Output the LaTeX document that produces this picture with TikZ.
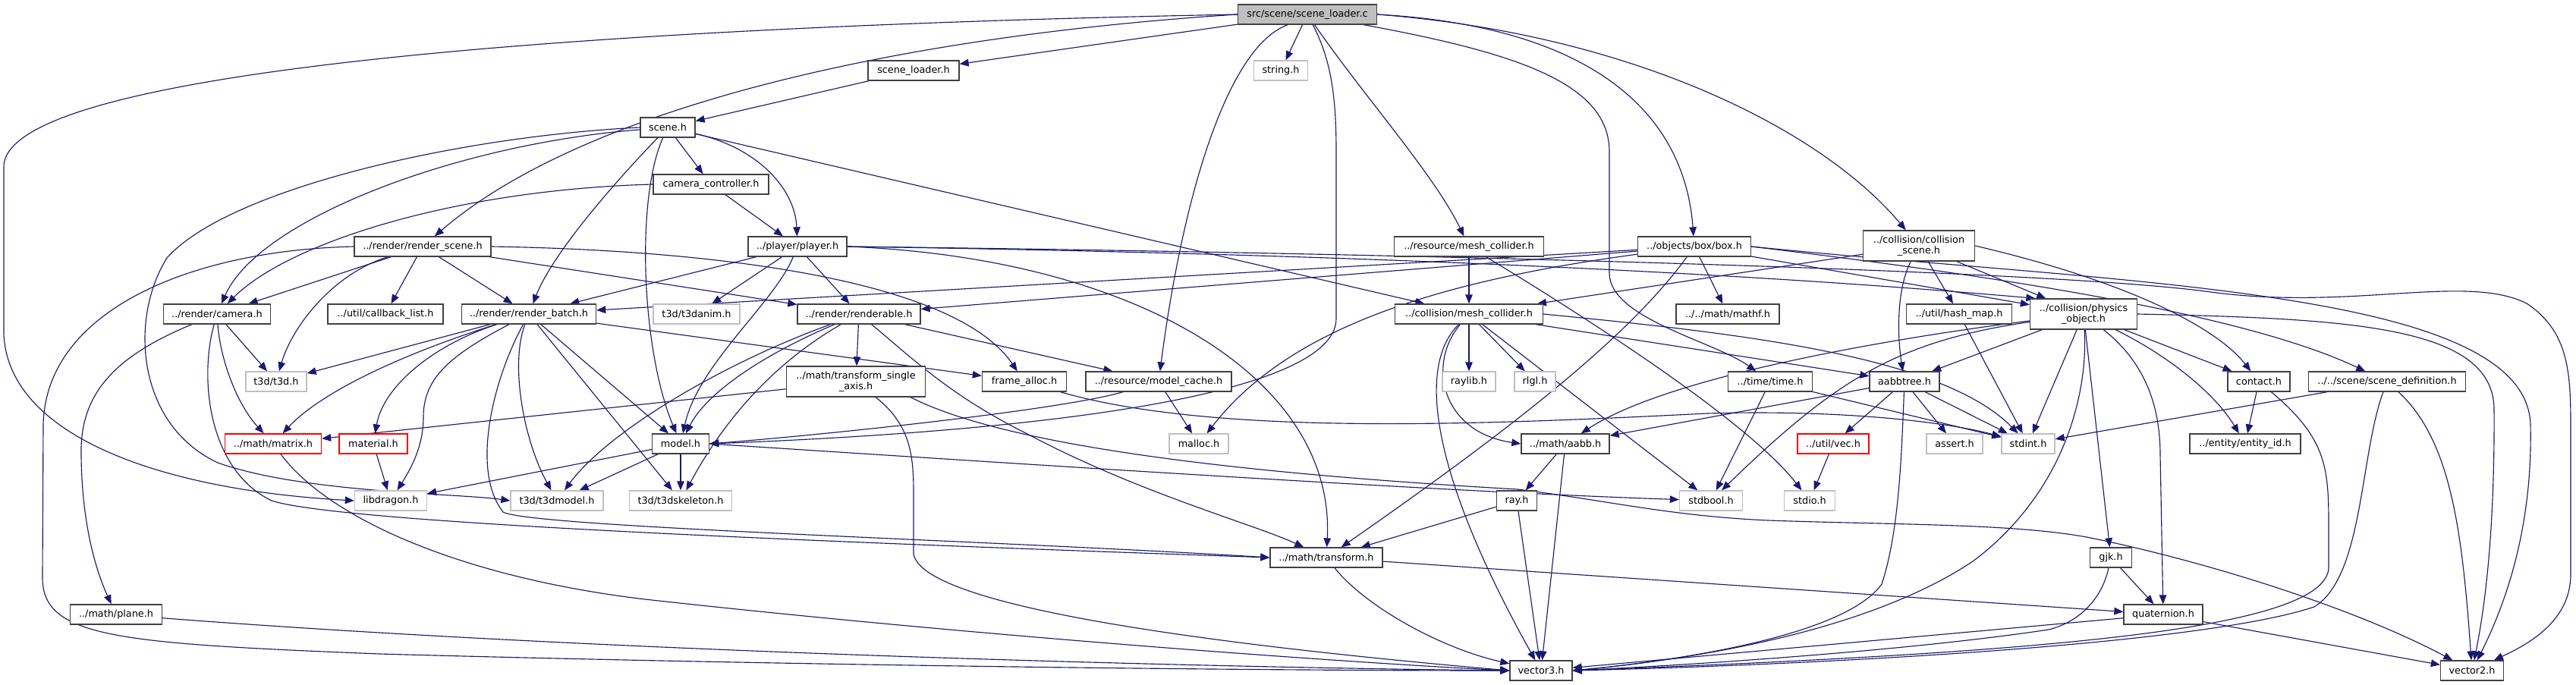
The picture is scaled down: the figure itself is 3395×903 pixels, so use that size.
\documentclass[tikz,border=0pt]{standalone}
\usepackage{fontspec}
\setmainfont{DejaVu Sans}
\usetikzlibrary{arrows.meta}
\pgfdeclarelayer{background}
\pgfsetlayers{background,main}
\definecolor{edgeblue}{HTML}{191970}
\definecolor{boxline}{HTML}{404040}
\definecolor{sysgray}{HTML}{BFBFBF}
\definecolor{rootgray}{HTML}{BFBFBF}
\definecolor{truncred}{HTML}{FF0000}
\tikzset{
  hdr/.style={draw=boxline, line width=1pt, fill=white, inner sep=0pt, minimum height=19.5pt,
    font=\fontsize{9.6}{10.75}\selectfont, align=center, text=black},
  sysh/.style={hdr, draw=sysgray},
  trunc/.style={hdr, draw=truncred},
  rootn/.style={hdr, fill=rootgray},
  tall/.style={minimum height=30pt},
  wd/.style={minimum width=#1*0.75pt},
  dep/.style={draw=edgeblue, line width=0.85pt, -{Triangle[length=9pt,width=7.2pt]}},
}
\begin{document}
\begin{tikzpicture}[x=0.75pt,y=-0.75pt]
\useasboundingbox (0,0) rectangle (3395,903);
\begin{pgfonlayer}{background}
\fill[white] (0,0) rectangle (3395,903);
\end{pgfonlayer}
% nodes
\node[rootn,wd=183] (root) at (1723,19) {src/scene/scene\_loader.c};
\node[hdr,wd=120] (slh) at (1204,93) {scene\_loader.h};
\node[sysh,wd=71] (string) at (1688,93) {string.h};
\node[hdr,wd=72] (scene) at (880,168) {scene.h};
\node[hdr,wd=152] (camctl) at (937,243) {camera\_controller.h};
\node[hdr,wd=180] (rscene) at (557,325) {../render/render\_scene.h};
\node[hdr,wd=130] (player) at (1051,325) {../player/player.h};
\node[hdr,wd=197] (rmesh) at (1936,325) {../resource/mesh\_collider.h};
\node[hdr,wd=149] (box) at (2233,325) {../objects/box/box.h};
\node[hdr,tall,wd=147] (cscene) at (2529,324) {../collision/collision\\\_scene.h};
\node[hdr,wd=141] (camera) at (286,414) {../render/camera.h};
\node[hdr,wd=152] (cblist) at (508,414) {../util/callback\_list.h};
\node[hdr,wd=177] (rbatch) at (697,414) {../render/render\_batch.h};
\node[sysh,wd=114] (t3danim) at (918,414) {t3d/t3danim.h};
\node[hdr,wd=162] (rend) at (1132,414) {../render/renderable.h};
\node[hdr,wd=195] (cmesh) at (1936,414) {../collision/mesh\_collider.h};
\node[hdr,wd=136] (mathf) at (2277,414) {../../math/mathf.h};
\node[hdr,wd=139] (hmap) at (2582,414) {../util/hash\_map.h};
\node[hdr,tall,wd=141] (phys) at (2746,414) {../collision/physics\\\_object.h};
\node[sysh,wd=80] (t3d) at (364,503) {t3d/t3d.h};
\node[hdr,tall,wd=183] (tsa) at (1128,503) {../math/transform\_single\\\_axis.h};
\node[hdr,wd=111] (falloc) at (1350,503) {frame\_alloc.h};
\node[hdr,wd=192] (mcache) at (1527,503) {../resource/model\_cache.h};
\node[sysh,wd=70] (raylib) at (1936,503) {raylib.h};
\node[sysh,wd=54] (rlgl) at (2023,503) {rlgl.h};
\node[hdr,wd=111] (time) at (2333,503) {../time/time.h};
\node[hdr,wd=92] (abt) at (2510,503) {aabbtree.h};
\node[hdr,wd=82] (contact) at (2977,503) {contact.h};
\node[hdr,wd=207] (scdef) at (3146,503) {../../scene/scene\_definition.h};
\node[trunc,wd=127] (matrix) at (360,585) {../math/matrix.h};
\node[trunc,wd=90] (material) at (492,585) {material.h};
\node[hdr,wd=75] (model) at (897,585) {model.h};
\node[sysh,wd=78] (malloc) at (1580,585) {malloc.h};
\node[hdr,wd=116] (aabb) at (2063,585) {../math/aabb.h};
\node[trunc,wd=94] (vec) at (2416,585) {../util/vec.h};
\node[sysh,wd=74] (assert) at (2576,585) {assert.h};
\node[sysh,wd=70] (stdint) at (2673,585) {stdint.h};
\node[hdr,wd=146] (entity) at (2959,585) {../entity/entity\_id.h};
\node[sysh,wd=95] (libdragon) at (515,660) {libdragon.h};
\node[sysh,wd=122] (t3dmodel) at (734,660) {t3d/t3dmodel.h};
\node[sysh,wd=135] (t3dskel) at (897,660) {t3d/t3dskeleton.h};
\node[hdr,wd=53] (ray) at (1999,660) {ray.h};
\node[sysh,wd=83] (stdbool) at (2255,660) {stdbool.h};
\node[sysh,wd=67] (stdio) at (2385,660) {stdio.h};
\node[hdr,wd=148] (transform) at (1748,735) {../math/transform.h};
\node[hdr,wd=55] (gjk) at (2782,735) {gjk.h};
\node[hdr,wd=121] (plane) at (153,810) {../math/plane.h};
\node[hdr,wd=104] (quat) at (2851,810) {quaternion.h};
\node[hdr,wd=82] (v3) at (2031,884) {vector3.h};
\node[hdr,wd=83] (v2) at (3258,884) {vector2.h};
% edges
\begin{pgfonlayer}{background}
% root
\draw[dep] (root) -- (slh);
\draw[dep] (root) -- (string);
\draw[dep] (root.west) .. controls (800,35) and (5,90) .. (5,220) -- (5,440) .. controls (10,570) and (200,645) .. (libdragon.west);
\draw[dep] (root.west) .. controls (1150,50) and (760,150) .. (rscene);
\draw[dep] (root.208) .. controls (1620,60) and (1560,250) .. (mcache);
\draw[dep] (root) .. controls (1755,80) and (1761,130) .. (1761,200) -- (1761,420) .. controls (1761,510) and (1450,565) .. (model.east);
\draw[dep] (root) .. controls (1800,130) and (1890,230) .. (rmesh);
\draw[dep] (root) .. controls (2000,70) and (2121,110) .. (2121,200) -- (2121,360) .. controls (2121,420) and (2260,450) .. (time);
\draw[dep] (root.east) .. controls (2100,35) and (2220,150) .. (box);
\draw[dep] (root.east) .. controls (2150,45) and (2400,170) .. (cscene);
% scene_loader.h
\draw[dep] (slh) -- (scene);
% scene.h
\draw[dep] (scene) -- (camctl);
\draw[dep] (scene) .. controls (1000,195) and (1048,250) .. (player);
\draw[dep] (scene) -- (cmesh);
\draw[dep] (scene) .. controls (600,190) and (340,290) .. (camera);
\draw[dep] (scene) .. controls (820,230) and (730,330) .. (rbatch);
\draw[dep] (scene) .. controls (838,260) and (845,460) .. (model);
\draw[dep] (scene.west) .. controls (600,180) and (300,250) .. (220,340) .. controls (170,420) and (180,560) .. (287,610) .. controls (400,650) and (600,650) .. (t3dmodel.west);
% camera_controller.h
\draw[dep] (camctl) -- (player);
\draw[dep] (camctl.west) .. controls (600,250) and (380,320) .. (camera);
% render_scene.h
\draw[dep] (rscene) -- (camera);
\draw[dep] (rscene) -- (cblist);
\draw[dep] (rscene) -- (rbatch);
\draw[dep] (rscene) -- (rend);
\draw[dep] (rscene.east) .. controls (950,330) and (1260,370) .. (falloc);
\draw[dep] (rscene) .. controls (440,360) and (385,430) .. (t3d);
\draw[dep] (rscene.west) .. controls (250,330) and (60,410) .. (57,560) -- (56,760) .. controls (55,840) and (150,848) .. (500,862) .. controls (1000,876) and (1600,884) .. (v3.west);
% camera.h
\draw[dep] (camera) .. controls (150,470) and (105,520) .. (107,600) .. controls (108,700) and (130,760) .. (plane);
\draw[dep] (camera) .. controls (262,500) and (275,620) .. (358,660) .. controls (450,690) and (1100,715) .. (transform.west);
\draw[dep] (camera) .. controls (290,470) and (310,530) .. (matrix);
\draw[dep] (camera) -- (t3d);
% render_batch.h
\draw[dep] (rbatch) -- (t3d);
\draw[dep] (rbatch) .. controls (520,470) and (420,520) .. (matrix);
\draw[dep] (rbatch) .. controls (570,455) and (505,510) .. (material);
\draw[dep] (rbatch) .. controls (590,470) and (558,500) .. (558,550) .. controls (558,590) and (540,620) .. (libdragon);
\draw[dep] (rbatch) .. controls (650,500) and (620,620) .. (663,675) .. controls (700,695) and (1300,712) .. (transform.west);
\draw[dep] (rbatch) .. controls (672,480) and (690,580) .. (t3dmodel);
\draw[dep] (rbatch) -- (t3dskel);
\draw[dep] (rbatch) -- (model);
\draw[dep] (rbatch) -- (falloc);
% player.h
\draw[dep] (player) -- (t3danim);
\draw[dep] (player) -- (rend);
\draw[dep] (player) -- (rbatch);
\draw[dep] (player) .. controls (1020,400) and (920,480) .. (model);
\draw[dep] (player.east) .. controls (1500,340) and (1760,500) .. (transform);
\draw[dep] (player.east) .. controls (1800,335) and (2300,360) .. (phys.162);
\draw[dep] (player.east) .. controls (1800,333) and (2700,355) .. (2914,385) .. controls (3100,410) and (3250,360) .. (3330,400) .. controls (3390,440) and (3388,500) .. (3388,580) -- (3388,757) .. controls (3388,820) and (3330,850) .. (v2);
% renderable.h
\draw[dep] (rend) .. controls (950,480) and (800,570) .. (t3dmodel);
\draw[dep] (rend) .. controls (1000,470) and (930,520) .. (model);
\draw[dep] (rend) .. controls (1000,490) and (940,580) .. (t3dskel);
\draw[dep] (rend) -- (tsa);
\draw[dep] (rend) .. controls (1200,470) and (1250,520) .. (1350,570) .. controls (1500,650) and (1650,690) .. (transform);
\draw[dep] (rend) -- (mcache);
% transform_single_axis.h
\draw[dep] (tsa) -- (matrix);
\draw[dep] (tsa.-16) .. controls (1330,590) and (1650,625) .. (2000,645) .. controls (2120,660) and (2200,680) .. (2330,686) .. controls (2500,692) and (2650,690) .. (2750,708) .. controls (2900,738) and (3100,800) .. (v2);
\draw[dep] (tsa) .. controls (1200,560) and (1204,600) .. (1204,650) -- (1204,730) .. controls (1215,800) and (1600,850) .. (v3.west);
% frame_alloc.h
\draw[dep] (falloc) .. controls (1600,575) and (1950,560) .. (2250,545) .. controls (2420,540) and (2560,555) .. (stdint);
% model_cache.h
\draw[dep] (mcache) .. controls (1400,540) and (1100,572) .. (model.east);
\draw[dep] (mcache) -- (malloc);
% box.h
\draw[dep] (box) .. controls (1900,370) and (1700,430) .. (malloc);
\draw[dep] (box) -- (rbatch);
\draw[dep] (box) -- (rend);
\draw[dep] (box) .. controls (2150,440) and (2000,560) .. (transform);
\draw[dep] (box) -- (mathf);
\draw[dep] (box) -- (phys);
\draw[dep] (box.east) .. controls (2600,360) and (2950,410) .. (scdef);
\draw[dep] (box.east) .. controls (2800,375) and (3330,380) .. (3335,560) .. controls (3338,700) and (3300,800) .. (v2);
% collision_scene.h
\draw[dep] (cscene) -- (cmesh);
\draw[dep] (cscene) .. controls (2500,380) and (2500,440) .. (abt);
\draw[dep] (cscene) -- (hmap);
\draw[dep] (cscene) -- (phys);
\draw[dep] (cscene.east) .. controls (2800,370) and (2920,430) .. (contact);
% collision/mesh_collider.h
\draw[dep] (cmesh) -- (raylib);
\draw[dep] (cmesh) -- (rlgl);
\draw[dep] (cmesh) .. controls (1880,480) and (1900,570) .. (aabb.west);
\draw[dep] (cmesh) .. controls (1860,490) and (1900,650) .. (v3);
\draw[dep] (cmesh) -- (stdbool);
\draw[dep] (cmesh.east) .. controls (2300,440) and (2560,470) .. (stdint);
\draw[dep] (cmesh) -- (abt);
% resource/mesh_collider.h
\draw[dep] (rmesh) -- (cmesh);
\draw[dep] (rmesh) .. controls (2060,400) and (2300,550) .. (stdio);
% time.h
\draw[dep] (time) -- (stdbool);
\draw[dep] (time) -- (stdint);
% aabbtree.h
\draw[dep] (abt) -- (vec);
\draw[dep] (abt) -- (assert);
\draw[dep] (abt) -- (stdint);
\draw[dep] (abt) -- (aabb);
\draw[dep] (abt) .. controls (2506,600) and (2503,700) .. (2480,770) .. controls (2430,840) and (2200,872) .. (v3.east);
% physics_object.h
\draw[dep] (phys) -- (abt);
\draw[dep] (phys) -- (stdint);
\draw[dep] (phys) .. controls (2500,445) and (2200,495) .. (aabb);
\draw[dep] (phys) .. controls (2500,450) and (2420,500) .. (stdbool);
\draw[dep] (phys) .. controls (2752,520) and (2720,650) .. (2600,740) .. controls (2450,840) and (2200,872) .. (v3.east);
\draw[dep] (phys) -- (gjk);
\draw[dep] (phys) .. controls (2830,480) and (2847,540) .. (2847,600) -- (quat);
\draw[dep] (phys) .. controls (2860,470) and (2920,520) .. (entity);
\draw[dep] (phys) -- (contact);
\draw[dep] (phys.east) .. controls (3100,420) and (3287,430) .. (3287,540) .. controls (3288,700) and (3275,800) .. (v2);
% contact.h
\draw[dep] (contact) -- (entity);
\draw[dep] (contact) .. controls (3069,580) and (3069,620) .. (3069,700) -- (3069,750) .. controls (3060,830) and (2700,860) .. (v3.east);
% scene_definition.h
\draw[dep] (scdef) -- (stdint);
\draw[dep] (scdef) .. controls (3230,580) and (3245,700) .. (v2);
\draw[dep] (scdef) .. controls (3110,600) and (3115,760) .. (3050,800) .. controls (2900,850) and (2400,876) .. (v3.east);
% gjk.h, quaternion.h
\draw[dep] (gjk) -- (quat);
\draw[dep] (gjk) .. controls (2770,790) and (2740,820) .. (2700,830) .. controls (2500,860) and (2200,878) .. (v3.east);
\draw[dep] (quat) -- (v3);
\draw[dep] (quat) -- (v2);
% transform.h
\draw[dep] (transform) .. controls (1800,800) and (1900,855) .. (v3);
\draw[dep] (transform) -- (quat);
% ray, aabb, vec, hash_map
\draw[dep] (ray) -- (transform);
\draw[dep] (ray) -- (v3);
\draw[dep] (aabb) -- (ray);
\draw[dep] (aabb) -- (v3);
\draw[dep] (vec) -- (stdio);
\draw[dep] (hmap) -- (stdint);
% matrix, plane, material, model
\draw[dep] (matrix) .. controls (430,680) and (600,760) .. (850,790) .. controls (1300,840) and (1800,875) .. (v3.west);
\draw[dep] (plane) .. controls (800,860) and (1600,880) .. (v3.west);
\draw[dep] (material) -- (libdragon);
\draw[dep] (model) -- (libdragon);
\draw[dep] (model) -- (t3dmodel);
\draw[dep] (model) -- (t3dskel);
\draw[dep] (model.east) .. controls (1400,615) and (1900,648) .. (stdbool);
\end{pgfonlayer}
\end{tikzpicture}
\end{document}
